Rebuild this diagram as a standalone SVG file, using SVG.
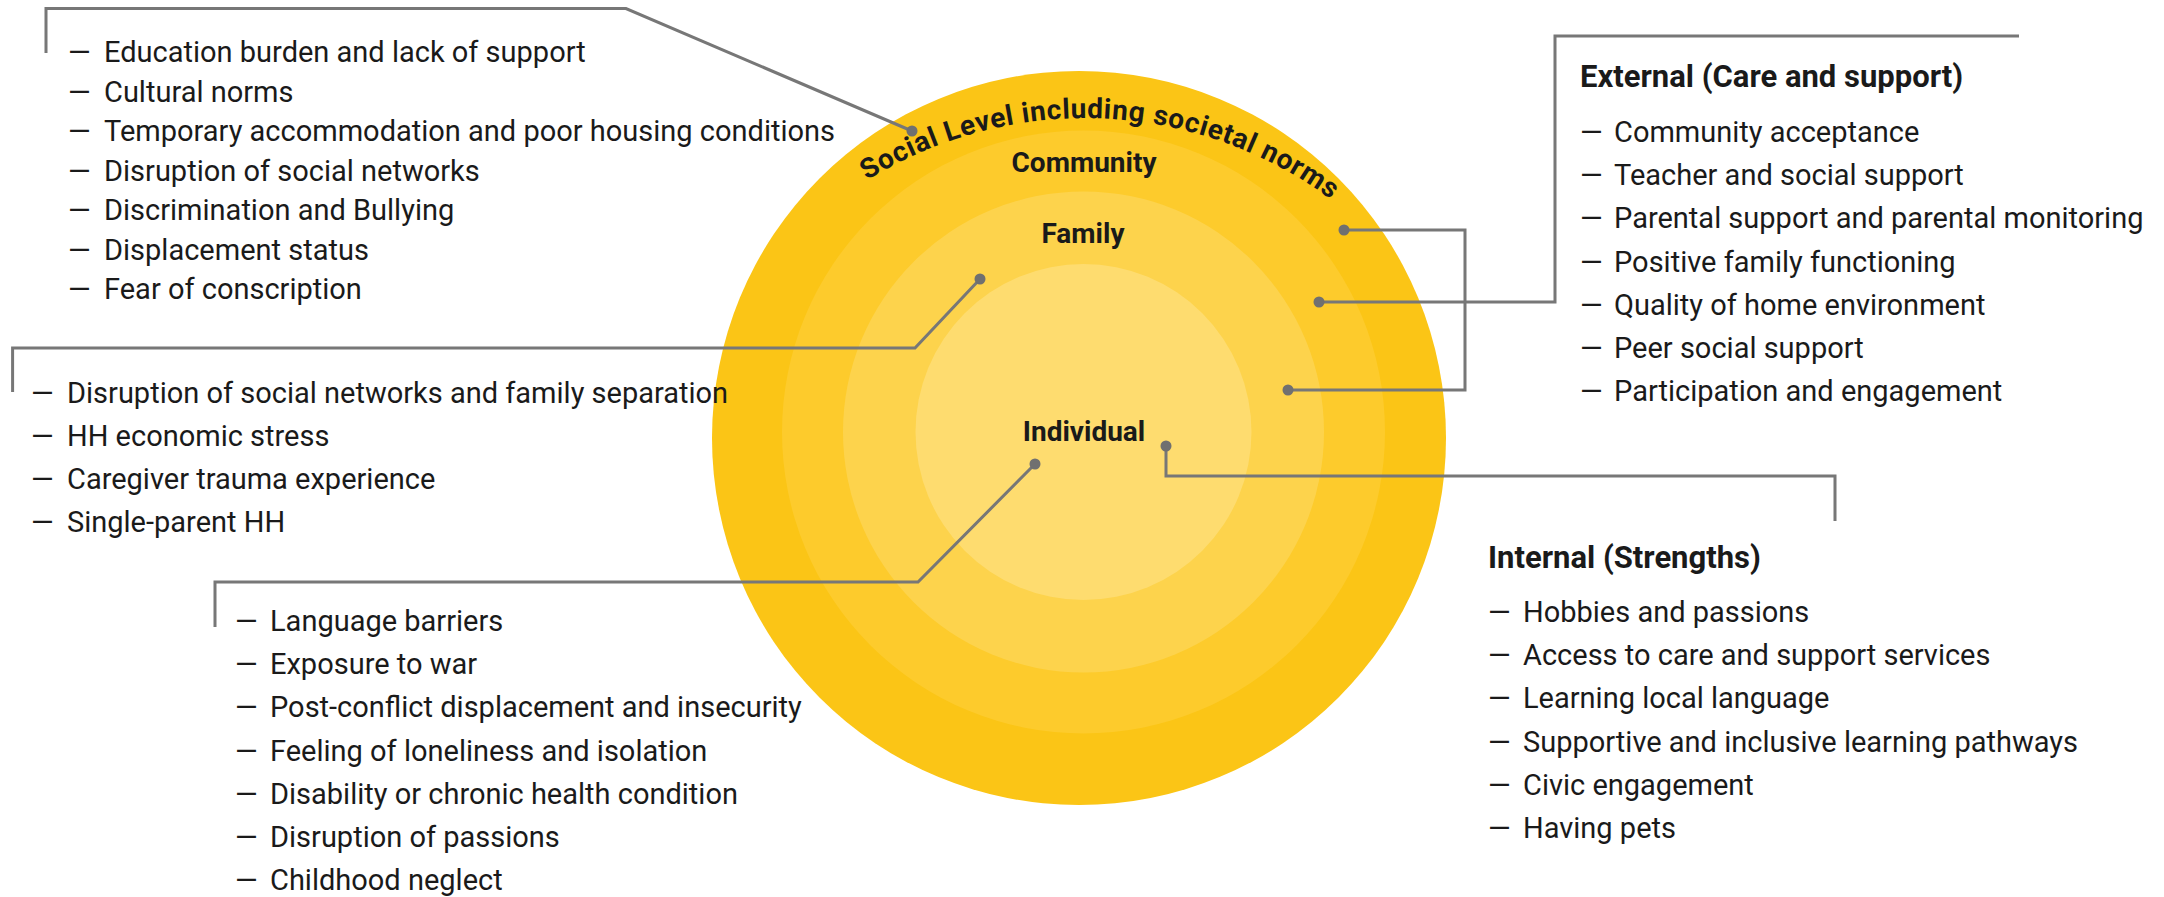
<svg xmlns="http://www.w3.org/2000/svg" width="2164" height="897" viewBox="0 0 2164 897">
<style>
.t{font-family:Roboto,"Liberation Sans",sans-serif;font-size:29px;fill:#1a1a1a}
.h{font-family:Roboto,"Liberation Sans",sans-serif;font-size:31px;font-weight:bold;fill:#1a1a1a}
.c{fill:none;stroke:#777777;stroke-width:3}
.d{fill:#707070}
.lbl{font-family:Roboto,"Liberation Sans",sans-serif;font-size:28px;font-weight:bold;fill:#1a1a1a;text-anchor:middle}
</style>
<defs>
<path id="arc" d="M673,530 A412,412 0 0 1 1497,530"/>
</defs>
<rect width="2164" height="897" fill="#ffffff"/>
<g id="circles">
<circle cx="1079" cy="438" r="367" fill="#FBC516"/>
<circle cx="1083.5" cy="432" r="301.5" fill="#FDCB2C"/>
<circle cx="1083.5" cy="432" r="240.5" fill="#FDD34C"/>
<circle cx="1083.5" cy="432" r="168" fill="#FEDC6F"/>
</g>
<g id="level-labels">
<text class="lbl" font-size="27" letter-spacing="0.7"><textPath href="#arc" startOffset="664" text-anchor="middle">Social Level including societal norms</textPath></text>
<text class="lbl" x="1084" y="172">Community</text>
<text class="lbl" x="1083" y="243">Family</text>
<text class="lbl" x="1084" y="441">Individual</text>
</g>
<g id="connectors">
<polyline class="c" points="46,53 46,8.5 626,8.5 912,131"/>
<polyline class="c" points="12.6,392 12.6,348 915,348 980,279"/>
<polyline class="c" points="215,627 215,582 918,582 1035,464"/>
<polyline class="c" points="1166,446 1166,476 1835,476 1835,521"/>
<polyline class="c" points="1344,230 1465,230 1465,390 1288,390"/>
<polyline class="c" points="1319,302 1555,302 1555,36 2019,36"/>
<circle class="d" cx="912" cy="131" r="5.5"/>
<circle class="d" cx="980" cy="279" r="5.5"/>
<circle class="d" cx="1035" cy="464" r="5.5"/>
<circle class="d" cx="1166" cy="446" r="5.5"/>
<circle class="d" cx="1344" cy="230" r="5.5"/>
<circle class="d" cx="1319" cy="302" r="5.5"/>
<circle class="d" cx="1288" cy="390" r="5.5"/>
</g>
<g id="social-list">
<text class="t" y="62"><tspan x="68">—</tspan><tspan x="104">Education burden and lack of support</tspan></text>
<text class="t" y="101.5"><tspan x="68">—</tspan><tspan x="104">Cultural norms</tspan></text>
<text class="t" y="141"><tspan x="68">—</tspan><tspan x="104">Temporary accommodation and poor housing conditions</tspan></text>
<text class="t" y="180.5"><tspan x="68">—</tspan><tspan x="104">Disruption of social networks</tspan></text>
<text class="t" y="220"><tspan x="68">—</tspan><tspan x="104">Discrimination and Bullying</tspan></text>
<text class="t" y="259.5"><tspan x="68">—</tspan><tspan x="104">Displacement status</tspan></text>
<text class="t" y="299"><tspan x="68">—</tspan><tspan x="104">Fear of conscription</tspan></text>
</g>
<g id="family-list">
<text class="t" y="403"><tspan x="31">—</tspan><tspan x="67">Disruption of social networks and family separation</tspan></text>
<text class="t" y="446"><tspan x="31">—</tspan><tspan x="67">HH economic stress</tspan></text>
<text class="t" y="489"><tspan x="31">—</tspan><tspan x="67">Caregiver trauma experience</tspan></text>
<text class="t" y="532"><tspan x="31">—</tspan><tspan x="67">Single-parent HH</tspan></text>
</g>
<g id="individual-list">
<text class="t" y="631"><tspan x="235">—</tspan><tspan x="270">Language barriers</tspan></text>
<text class="t" y="674"><tspan x="235">—</tspan><tspan x="270">Exposure to war</tspan></text>
<text class="t" y="717"><tspan x="235">—</tspan><tspan x="270">Post-conflict displacement and insecurity</tspan></text>
<text class="t" y="761"><tspan x="235">—</tspan><tspan x="270">Feeling of loneliness and isolation</tspan></text>
<text class="t" y="804"><tspan x="235">—</tspan><tspan x="270">Disability or chronic health condition</tspan></text>
<text class="t" y="847"><tspan x="235">—</tspan><tspan x="270">Disruption of passions</tspan></text>
<text class="t" y="890"><tspan x="235">—</tspan><tspan x="270">Childhood neglect</tspan></text>
</g>
<g id="external-list">
<text class="h" x="1580" y="87">External (Care and support)</text>
<text class="t" y="142"><tspan x="1580">—</tspan><tspan x="1614">Community acceptance</tspan></text>
<text class="t" y="185"><tspan x="1580">—</tspan><tspan x="1614">Teacher and social support</tspan></text>
<text class="t" y="228"><tspan x="1580">—</tspan><tspan x="1614">Parental support and parental monitoring</tspan></text>
<text class="t" y="272"><tspan x="1580">—</tspan><tspan x="1614">Positive family functioning</tspan></text>
<text class="t" y="315"><tspan x="1580">—</tspan><tspan x="1614">Quality of home environment</tspan></text>
<text class="t" y="358"><tspan x="1580">—</tspan><tspan x="1614">Peer social support</tspan></text>
<text class="t" y="401"><tspan x="1580">—</tspan><tspan x="1614">Participation and engagement</tspan></text>
</g>
<g id="internal-list">
<text class="h" x="1488" y="568">Internal (Strengths)</text>
<text class="t" y="622"><tspan x="1488">—</tspan><tspan x="1523">Hobbies and passions</tspan></text>
<text class="t" y="665"><tspan x="1488">—</tspan><tspan x="1523">Access to care and support services</tspan></text>
<text class="t" y="708"><tspan x="1488">—</tspan><tspan x="1523">Learning local language</tspan></text>
<text class="t" y="752"><tspan x="1488">—</tspan><tspan x="1523">Supportive and inclusive learning pathways</tspan></text>
<text class="t" y="795"><tspan x="1488">—</tspan><tspan x="1523">Civic engagement</tspan></text>
<text class="t" y="838"><tspan x="1488">—</tspan><tspan x="1523">Having pets</tspan></text>
</g>
</svg>
